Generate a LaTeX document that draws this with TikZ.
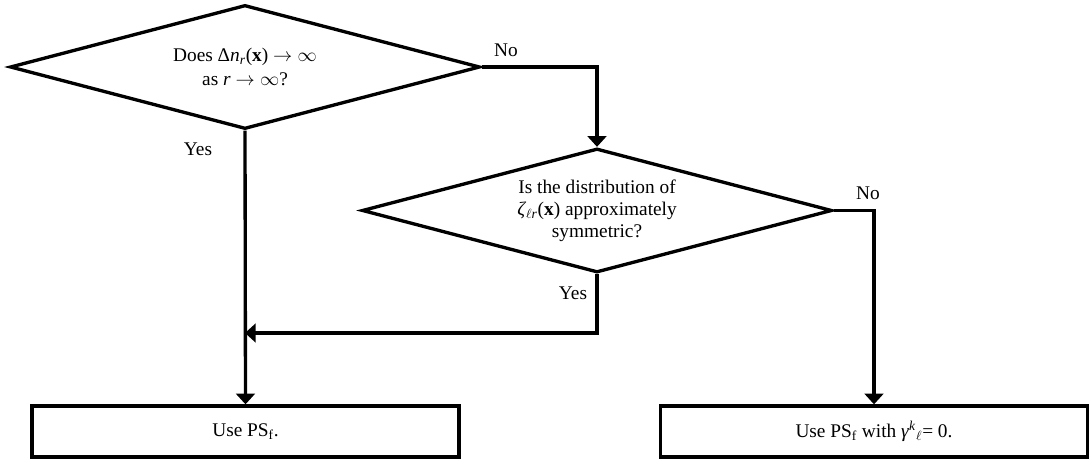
\documentclass[tikz,border=0pt]{standalone}
\usepackage{fontspec}
\setmainfont{Liberation Serif}
\usetikzlibrary{shapes.geometric,arrows.meta}
\tikzset{
  decision/.style={draw, diamond, line width=2.5pt, line join=miter, inner sep=0pt,
    minimum width=352.5pt, minimum height=93pt, aspect=3.8, align=center,
    font=\fontsize{14.5}{16.5}\selectfont},
  endbox/.style={draw, rectangle, line width=2.5pt, inner sep=0pt,
    minimum width=320.25pt, minimum height=38.25pt,
    font=\fontsize{14.5}{16.5}\selectfont},
  flow/.style={line width=2.5pt, line join=miter, -{Triangle[length=8pt,width=14pt]}},
  lbl/.style={font=\fontsize{14.5}{16.5}\selectfont, inner sep=0pt}
}
\begin{document}
\begin{tikzpicture}[x=0.75pt,y=-0.75pt]
\useasboundingbox (0,0) rectangle (1091,459);
\node[decision] (d1) at (245,67) {Does Δ\textit{n}\textsubscript{\textit{r}}(\textbf{x}) $\rightarrow\infty$\\[1.5pt] as \textit{r} $\rightarrow\infty$?};
\node[decision] (d2) at (597,210.5) {Is the distribution of\\ \textit{ζ}\textsubscript{$\ell$\textit{r}}(\textbf{x}) approximately\\ symmetric?};
\node[endbox] (b1) at (245.5,431.5) {Use PS\textsubscript{f}.};
\node[endbox] (b2) at (874,431.5) {Use PS\textsubscript{f} with \textit{γ}\textsuperscript{\textit{k}}\textsubscript{$\ell$}= 0.};
\coordinate (m) at (245,333);
\draw[flow] (d1.east) -| (d2.north);
\draw[flow] (d1.south) -- (b1.north);
\draw[flow] (d2.south) |- (m);
\draw[flow] (d2.east) -| (b2.north);
\node[lbl] (no1) at (506,50) {No};
\node[lbl] (yes1) at (198,149) {Yes};
\node[lbl] (no2) at (868,193) {No};
\node[lbl] (yes2) at (573,293) {Yes};
\end{tikzpicture}
\end{document}
